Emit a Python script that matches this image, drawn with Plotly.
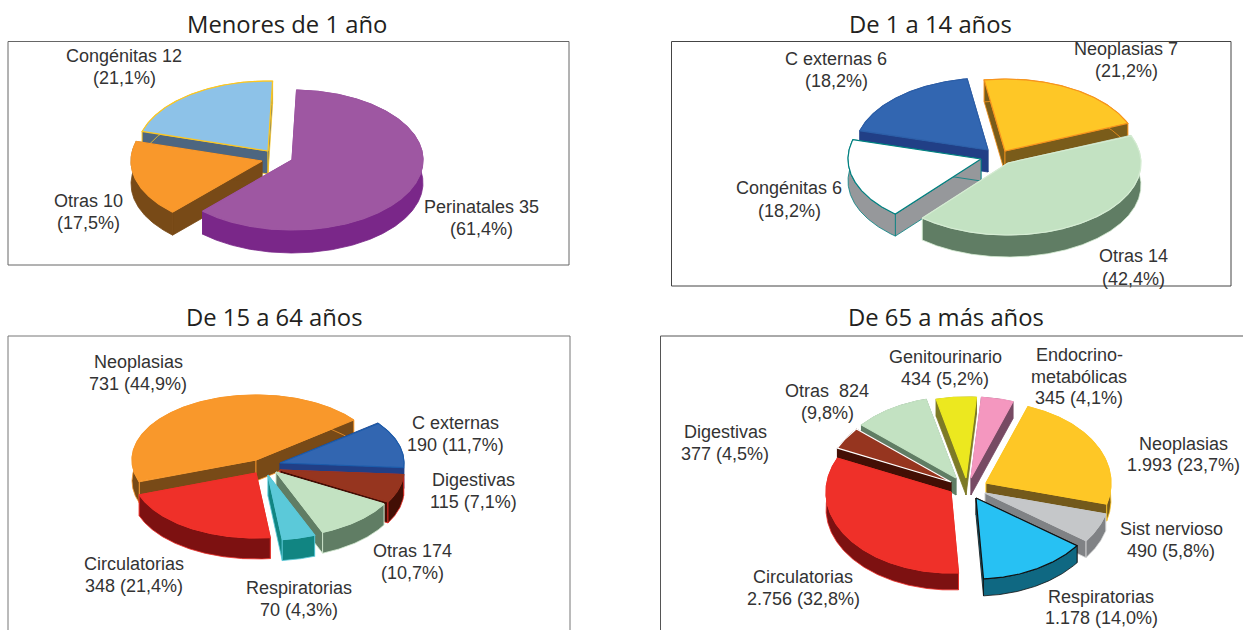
import numpy as np
import plotly.graph_objects as go

# ---------- data ----------
TITLES = ["Menores de 1 año", "De 1 a 14 años", "De 15 a 64 años", "De 65 a más años"]

CATS_1 = ["Perinatales", "Otras", "Congénitas"]
VALS_1 = [35, 10, 12]
CATS_2 = ["Neoplasias", "Otras", "Congénitas", "C externas"]
VALS_2 = [7, 14, 6, 6]
CATS_3 = ["C externas", "Digestivas", "Otras", "Respiratorias", "Circulatorias", "Neoplasias"]
VALS_3 = [190, 115, 174, 70, 348, 731]
CATS_4 = ["Neoplasias", "Sist nervioso", "Respiratorias", "Circulatorias",
          "Digestivas", "Otras", "Genitourinario", "Endocrino"]
VALS_4 = [1993, 490, 1178, 2756, 377, 824, 434, 345]

LABELS_1 = [["Perinatales 35", "(61,4%)"], ["Otras 10", "(17,5%)"], ["Congénitas 12", "(21,1%)"]]
LABELS_2 = [["Neoplasias 7", "(21,2%)"], ["Otras 14", "(42,4%)"], ["Congénitas 6", "(18,2%)"],
            ["C externas 6", "(18,2%)"]]
LABELS_3 = [["C externas", "190 (11,7%)"], ["Digestivas", "115 (7,1%)"], ["Otras 174", "(10,7%)"],
            ["Respiratorias", "70 (4,3%)"], ["Circulatorias", "348 (21,4%)"], ["Neoplasias", "731 (44,9%)"]]
LABELS_4 = [["Neoplasias", "1.993 (23,7%)"], ["Sist nervioso", "490 (5,8%)"], ["Respiratorias", "1.178 (14,0%)"],
            ["Circulatorias", "2.756 (32,8%)"], ["Digestivas", "377 (4,5%)"], ["Otras  824", "(9,8%)"],
            ["Genitourinario", "434 (5,2%)"], ["Endocrino-", "metabólicas", "345 (4,1%)"]]

# ---------- layout and style ----------
TEXT = "#333333"
LABEL_FONT = dict(family="Liberation Sans", size=18, color=TEXT)
TITLE_FONT = dict(family="Open Sans", size=23.8, color="#231f20")
TITLE_POS = [(287, 24), (930, 24), (274, 317), (946, 317)]

# pie geometry: start angle (deg clockwise from top), radii, depth, draw order
GEOM = [
    dict(start=2, rx=131, ry=70, depth=23, order=[2, 1, 0]),
    dict(start=-9, rx=133, ry=72, depth=22, order=[3, 0, 2, 1]),
    dict(start=52, rx=124, ry=65, depth=21, order=[5, 0, 1, 2, 3, 4]),
    dict(start=19.6, rx=125, ry=81, depth=17, order=[6, 7, 5, 0, 4, 1, 3, 2]),
]
APEX = [
    [(292, 160), (262, 161), (268, 151)],
    [(1005, 151), (1008, 163), (981, 159), (988, 150)],
    [(280, 463), (280, 470), (276, 472), (268, 475), (256, 473), (256, 460)],
    [(986, 483), (985, 493), (976, 498), (951, 492), (951, 482), (956, 478), (966, 478), (971, 478)],
]
# (top, side, top edge, side edge)
STYLE = [
    [("#9e57a2", "#7a2789", "#9e57a2", "#7a2789"),
     ("#f9982b", "#784a17", "#f9982b", "#784a17"),
     ("#8dc2e8", "#4d6680", "#fdc721", "#fdc721")],
    [("#fec726", "#7a5c1a", "#f7941d", "#f7941d"),
     ("#c3e2c2", "#607d64", "#d5ecd3", "#d5ecd3"),
     ("#ffffff", "#96989b", "#008080", "#008080"),
     ("#3266b1", "#213f86", "#2c5fa8", "#213f86")],
    [("#3266b1", "#213f86", "#1c5cab", "#213f86"),
     ("#96351f", "#430f05", "#96351f", "#ef3029"),
     ("#c3e2c2", "#607d64", "#c3e2c2", "#d5ecd3"),
     ("#5bc9d9", "#118582", "#5bc9d9", "#5bc9d9"),
     ("#ef3029", "#7d1111", "#ef3029", "#ef3029"),
     ("#f9982b", "#784a17", "#f9982b", "#f9982b")],
    [("#fec726", "#73591b", "#fec726", "#fec726"),
     ("#c5c7c9", "#808285", "#c5c7c9", "#d9dadb"),
     ("#27c1f3", "#0f6882", "#111111", "#111111"),
     ("#ef3029", "#7d1111", "#ef3029", "#ef3029"),
     ("#96351f", "#430f05", "#ffffff", "#430f05"),
     ("#c3e2c2", "#607d64", "#c3e2c2", "#607d64"),
     ("#ece81f", "#7d7a26", "#ece81f", "#7d7a26"),
     ("#f497bf", "#774a63", "#f497bf", "#774a63")],
]
LABEL_POS = [
    [[(481, 207), (481, 229)], [(88, 201), (88, 223)], [(124, 56), (124, 78)]],
    [[(1126, 49), (1126, 71)], [(1133, 256), (1133, 279)], [(789, 188), (789, 211)], [(836, 59), (836, 81)]],
    [[(455, 423), (455, 445)], [(473, 480), (473, 502)], [(412, 551), (412, 573)],
     [(299, 588), (299, 610)], [(134, 564), (134, 586)], [(138, 362), (138, 384)]],
    [[(1183, 444), (1183, 465)], [(1171, 529), (1171, 551)], [(1101, 597), (1101, 618)],
     [(803, 577), (803, 599)], [(725, 432), (725, 454)], [(827, 391), (827, 413)],
     [(945, 357), (945, 379)], [(1079, 355), (1079, 377), (1079, 398)]],
]
# chart frames: x0, y0, x1, y1, colour
FRAMES = [
    (8, 41.5, 569, 265, "#666666"),
    (671.5, 41.5, 1231, 286, "#444444"),
    (8, 336, 570, 640, "#777777"),
    (660.5, 336, 1260, 640, "#555555"),
]

ALL_VALS = [VALS_1, VALS_2, VALS_3, VALS_4]
ALL_LABELS = [LABELS_1, LABELS_2, LABELS_3, LABELS_4]
ALL_CATS = [CATS_1, CATS_2, CATS_3, CATS_4]

fig = go.Figure()


def poly(xs, ys, fill, edge, width=1.0):
    fig.add_trace(go.Scatter(x=xs, y=ys, mode="lines", fill="toself", fillcolor=fill,
                             line=dict(color=edge, width=width), hoverinfo="skip", showlegend=False))


def arc(apex, rx, ry, a0, a1):
    t = np.radians(np.linspace(a0, a1, max(int(abs(a1 - a0)) * 2, 4)))
    return apex[0] + rx * np.sin(t), apex[1] - ry * np.cos(t)


for g, vals, apexes, styles in zip(GEOM, ALL_VALS, APEX, STYLE):
    v = np.asarray(vals, dtype=float)
    ends = g["start"] + np.cumsum(v) / v.sum() * 360.0
    starts = np.concatenate([[g["start"]], ends[:-1]])
    d = g["depth"]
    for i in g["order"]:
        top, side, edge, side_edge = styles[i]
        ax, ay = apexes[i]
        x, y = arc((ax, ay), g["rx"], g["ry"], starts[i], ends[i])
        # cut faces
        for px, py in ((x[0], y[0]), (x[-1], y[-1])):
            poly([ax, px, px, ax, ax], [ay, py, py + d, ay + d, ay], side, side_edge, 0.8)
        # outer wall
        poly(np.concatenate([x, x[::-1], x[:1]]), np.concatenate([y, y[::-1] + d, y[:1]]), side, side_edge, 0.8)
        # top face
        poly(np.concatenate([[ax], x, [ax]]), np.concatenate([[ay], y, [ay]]), top, edge, 1.2)

annotations = []
for labels, positions in zip(ALL_LABELS, LABEL_POS):
    for lines, pos in zip(labels, positions):
        for line, (lx, ly) in zip(lines, pos):
            annotations.append(dict(x=lx, y=ly, xref="x", yref="y", text=line, showarrow=False,
                                    xanchor="center", yanchor="middle", font=LABEL_FONT))
for title, (tx, ty) in zip(TITLES, TITLE_POS):
    annotations.append(dict(x=tx, y=ty, xref="x", yref="y", text=title, showarrow=False,
                            xanchor="center", yanchor="middle", font=TITLE_FONT))

shapes = [dict(type="rect", x0=a, y0=b, x1=c, y1=e, xref="x", yref="y",
               line=dict(color=col, width=1), layer="below")
          for a, b, c, e, col in FRAMES]

fig.update_layout(
    width=1243, height=630, margin=dict(l=0, r=0, t=0, b=0),
    paper_bgcolor="white", plot_bgcolor="white", showlegend=False,
    xaxis=dict(range=[0, 1243], visible=False, fixedrange=True),
    yaxis=dict(range=[630, 0], visible=False, fixedrange=True),
    annotations=annotations, shapes=shapes,
)
fig.write_html("out.html", config=dict(displayModeBar=False),
               post_script="document.body.style.margin='0';document.body.style.overflow='hidden';")
